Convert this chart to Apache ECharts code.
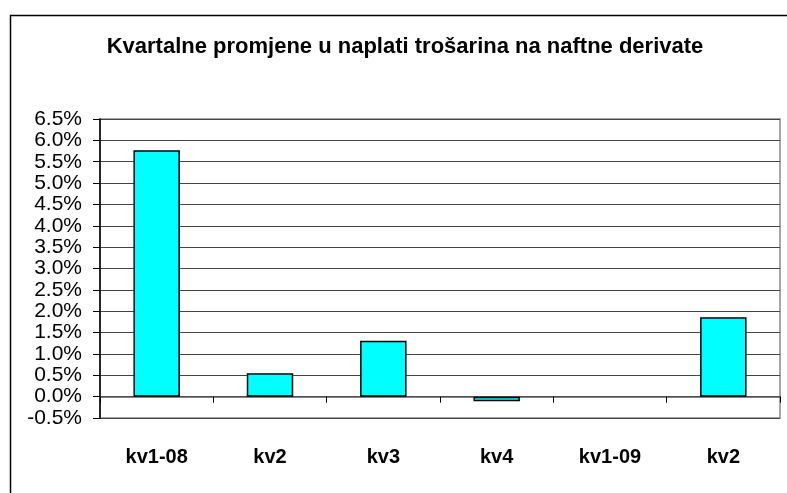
<!DOCTYPE html>
<html>
<head>
<meta charset="utf-8">
<script src="https://cdn.jsdelivr.net/npm/echarts@6/dist/echarts.min.js"></script>
<style>html,body{margin:0;padding:0;background:#fff}#c{width:787px;height:493px}</style>
</head>
<body>
<div id="c"></div>
<script>
const titleText = 'Kvartalne promjene u naplati trošarina na naftne derivate';
const categories = ['kv1-08', 'kv2', 'kv3', 'kv4', 'kv1-09', 'kv2'];
const values = [5.77, 0.55, 1.31, -0.11, null, 1.86];
const yMin = -0.5, yMax = 6.5, yStep = 0.5;

const chart = echarts.init(document.getElementById('c'));
chart.setOption({
  animation: false,
  backgroundColor: '#fff',
  graphic: [{
    type: 'rect', left: 8, top: 13, silent: true,
    shape: { width: 820, height: 520 },
    style: { fill: 'none', stroke: '#000', lineWidth: 1.5 }
  }],
  title: {
    text: titleText, left: 400, top: 31, textAlign: 'center',
    textStyle: { fontFamily: 'Liberation Sans, Arial', fontWeight: 'bold', fontSize: 22, color: '#000' }
  },
  grid: { left: 100, right: 7, top: 119, bottom: 75, show: true, borderColor: '#888', borderWidth: 1.5, backgroundColor: '#fff' },
  xAxis: {
    type: 'category', data: categories,
    axisLine: { onZero: true, lineStyle: { color: '#555', width: 1.5 } },
    axisTick: { show: true, length: 6, inside: false, lineStyle: { color: '#000' } },
    axisLabel: { margin: 29, fontFamily: 'Liberation Sans, Arial', fontWeight: 'bold', fontSize: 20, color: '#000' }
  },
  yAxis: {
    type: 'value', min: yMin, max: yMax, interval: yStep,
    axisLine: { show: true, lineStyle: { color: '#000', width: 1.5 } },
    axisTick: { show: true, length: 7, lineStyle: { color: '#000' } },
    splitLine: { show: true, lineStyle: { color: '#444', width: 1 } },
    axisLabel: { margin: 18, fontFamily: 'Liberation Sans, Arial', fontSize: 21, color: '#000',
      formatter: v => v.toFixed(1) + '%' }
  },
  series: [{
    type: 'bar', data: values, barWidth: '41%',
    itemStyle: { color: '#00FFFF', borderColor: '#000', borderWidth: 1.5 }
  }]
});
</script>
</body>
</html>
